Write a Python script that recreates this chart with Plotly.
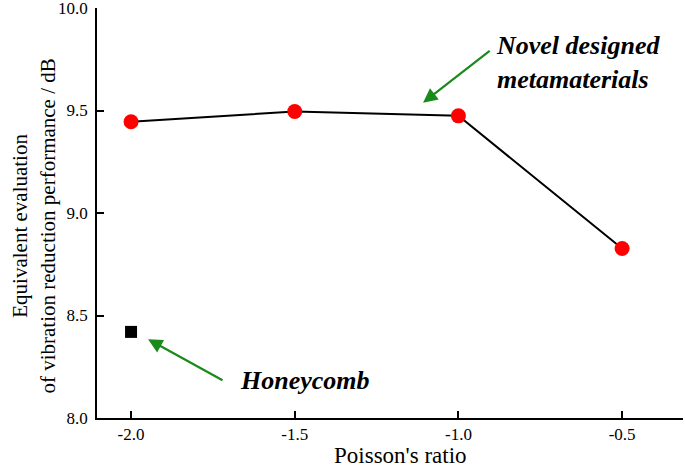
import plotly.graph_objects as go

poisson = [-2.0, -1.5, -1.0, -0.5]
novel_vals = [9.445, 9.495, 9.474, 8.827]
honey_x = [-2.0]
honey_vals = [8.42]

FONT = '"Liberation Serif", "Times New Roman", Times, serif'

fig = go.Figure()
fig.add_trace(go.Scatter(
    x=poisson, y=novel_vals, mode="lines+markers",
    line=dict(color="black", width=2),
    marker=dict(color="#ff0000", size=15, line=dict(width=0)),
    showlegend=False, cliponaxis=False))
fig.add_trace(go.Scatter(
    x=honey_x, y=honey_vals, mode="markers",
    marker=dict(color="black", size=12, symbol="square", line=dict(width=0)),
    showlegend=False))

green = "#1a8a1a"
fig.add_annotation(x=-1.108, y=9.538, ax=-0.900, ay=9.796, xref="x", yref="y",
                   axref="x", ayref="y", text="", showarrow=True,
                   arrowhead=2, arrowsize=1.3, arrowwidth=2.2, arrowcolor=green)
fig.add_annotation(x=-1.948, y=8.384, ax=-1.716, ay=8.180, xref="x", yref="y",
                   axref="x", ayref="y", text="", showarrow=True,
                   arrowhead=2, arrowsize=1.3, arrowwidth=2.2, arrowcolor=green)
fig.add_annotation(x=-0.892, y=9.732, xref="x", yref="y", showarrow=False,
                   xanchor="left", yanchor="middle", align="left",
                   text="<b><i>Novel designed<br>metamaterials</i></b>",
                   font=dict(family=FONT, size=26, color="black"))
fig.add_annotation(x=-1.673, y=8.185, xref="x", yref="y", showarrow=False,
                   xanchor="left", yanchor="middle",
                   text="<b><i>Honeycomb</i></b>",
                   font=dict(family=FONT, size=26, color="black"))

# axis titles
fig.add_annotation(x=0, y=0.467, xref="paper", yref="paper", showarrow=False,
                   xanchor="center", yanchor="middle", xshift=-63, textangle=-90,
                   text="Equivalent evaluation<br>of vibration reduction performance / dB",
                   font=dict(family=FONT, size=21, color="black"))
fig.add_annotation(x=0.5, y=0, xref="paper", yref="paper", showarrow=False,
                   xanchor="center", yanchor="middle", xshift=10, yshift=-37,
                   text="Poisson's ratio",
                   font=dict(family=FONT, size=23, color="black"))

fig.update_layout(
    width=685, height=467,
    margin=dict(l=97, r=2, t=8, b=49, autoexpand=False),
    plot_bgcolor="white", paper_bgcolor="white",
    font=dict(family=FONT, size=17, color="black"),
    xaxis=dict(range=[-2.104, -0.314], tickvals=poisson,
               ticktext=["-2.0", "-1.5", "-1.0", "-0.5"],
               ticks="inside", ticklen=7, tickwidth=1.5, tickcolor="black",
               showline=True, linecolor="black", linewidth=1.5,
               showgrid=False, zeroline=False, automargin=False,
               ticklabeloverflow="allow",
               tickfont=dict(family=FONT, size=17)),
    yaxis=dict(range=[8.0, 10.0], tickvals=[8.0, 8.5, 9.0, 9.5, 10.0],
               ticktext=["8.0", "8.5", "9.0", "9.5", "10.0"],
               ticks="inside", ticklen=7, tickwidth=1.5, tickcolor="black",
               showline=True, linecolor="black", linewidth=1.5,
               showgrid=False, zeroline=False, automargin=False,
               ticklabeloverflow="allow", ticklabelstandoff=4,
               tickfont=dict(family=FONT, size=17)),
)
fig.write_html("out.html", config={"displayModeBar": False},
               post_script="document.body.style.margin='0';")
